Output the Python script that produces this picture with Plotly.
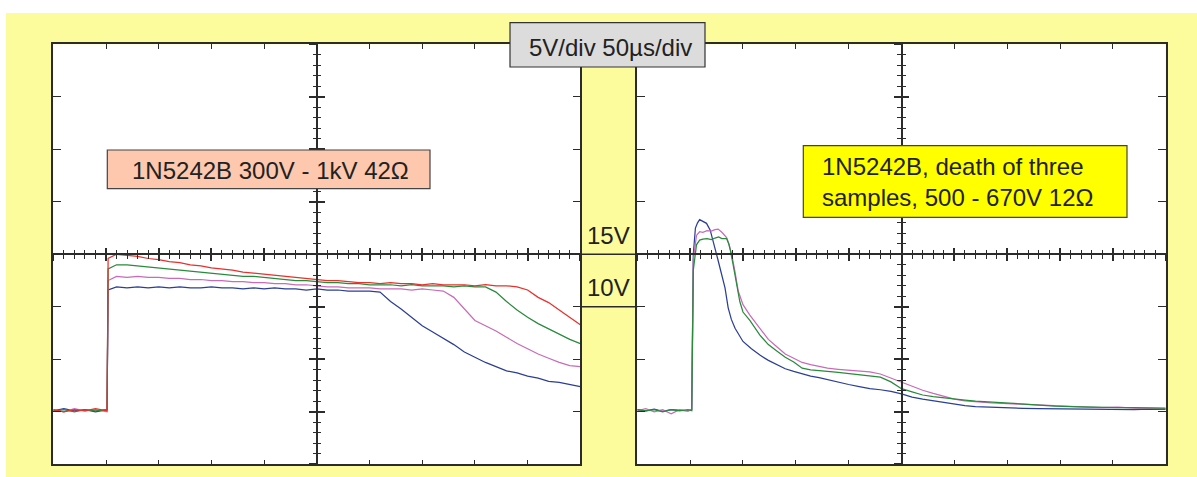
import plotly.graph_objects as go

# ---------------- data ----------------
# Left panel: 1N5242B 300V - 1kV 42 Ohm  (time in us, voltage in V)
T_L = [0, 10, 20, 30, 40, 51, 52, 60, 70, 80,
       90, 100, 110, 120, 130, 140, 150, 160, 170, 180,
       190, 200, 210, 220, 230, 240, 250, 260, 270, 280,
       290, 300, 310, 320, 330, 340, 350, 360, 370, 380,
       390, 400, 410, 420, 430, 440, 450, 460, 470, 480,
       490, 500]
RED_L = [0.2, 0.0, 0.2, 0.1, 0.3, 0.1, 14.6, 15.0, 14.9, 14.8,
         14.6, 14.5, 14.3, 14.2, 14.0, 13.9, 13.7, 13.6, 13.5, 13.3,
         13.2, 13.1, 13.0, 12.9, 12.8, 12.7, 12.6, 12.5, 12.5, 12.4,
         12.3, 12.3, 12.2, 12.3, 12.2, 12.2, 12.1, 12.2, 12.1, 12.1,
         12.1, 12.0, 12.1, 12.0, 12.0, 11.9, 11.6, 10.9, 10.4, 9.7,
         9.0, 8.3]
GREEN_L = [0.1, 0.2, 0.0, 0.2, 0.1, 0.2, 13.6, 14.0, 14.0, 13.9,
           13.8, 13.7, 13.6, 13.5, 13.4, 13.3, 13.2, 13.1, 13.0, 12.9,
           12.9, 12.8, 12.7, 12.6, 12.5, 12.5, 12.4, 12.3, 12.3, 12.2,
           12.2, 12.1, 12.1, 12.1, 12.0, 12.1, 12.0, 12.0, 12.0, 11.9,
           12.0, 11.9, 11.9, 11.4, 10.5, 9.7, 9.0, 8.4, 7.9, 7.4,
           6.9, 6.5]
MAGENTA_L = [0.2, 0.0, 0.3, 0.1, 0.2, 0.0, 12.5, 12.9, 12.8, 12.9,
             12.8, 12.8, 12.7, 12.7, 12.6, 12.6, 12.5, 12.5, 12.4, 12.4,
             12.3, 12.3, 12.2, 12.2, 12.1, 12.1, 12.0, 11.9, 11.9, 11.8,
             11.8, 11.8, 11.7, 11.7, 11.7, 11.6, 11.7, 11.6, 11.5, 10.9,
             9.8, 8.7, 8.2, 7.7, 7.1, 6.5, 6.0, 5.5, 5.1, 4.7,
             4.4, 4.3]
BLUE_L = [0.1, 0.3, 0.1, 0.2, 0.0, 0.2, 11.6, 11.9, 11.8, 11.9,
          11.8, 11.9, 11.8, 11.9, 11.8, 11.8, 11.9, 11.8, 11.8, 11.7,
          11.8, 11.7, 11.8, 11.7, 11.7, 11.6, 11.7, 11.6, 11.6, 11.5,
          11.5, 11.5, 11.4, 10.5, 9.8, 9.0, 8.2, 7.6, 7.0, 6.4,
          5.7, 5.2, 4.7, 4.3, 3.9, 3.7, 3.4, 3.2, 2.9, 2.8,
          2.6, 2.4]

# Right panel: 1N5242B, death of three samples, 500 - 670V 12 Ohm
T_BLUE_R = [0, 8, 16, 24, 32, 40, 48, 51.5, 53, 55, 57, 59, 62, 65.5, 69, 71,
            73.5, 76, 78.5, 81, 83, 86, 89, 92.5, 96, 100, 108, 116, 124, 132,
            140, 148, 156, 164, 172, 180, 190, 200, 210, 220, 230, 240, 250,
            260, 270, 280, 290, 300, 310, 320, 335, 350, 365, 380, 395, 410,
            425, 440, 455, 470, 485, 500]
BLUE_R = [0.2, 0.1, 0.25, 0.05, 0.2, 0.15, 0.1, 0.2, 15.0, 17.5, 18.0, 18.3, 18.15, 17.95, 17.3, 16.6,
          15.6, 14.6, 13.6, 12.6, 11.8, 9.9, 8.8, 7.95, 7.3, 6.7, 6.0, 5.4, 4.9, 4.5,
          4.1, 3.85, 3.6, 3.4, 3.25, 3.05, 2.8, 2.6, 2.4, 2.2, 2.1, 1.95, 1.7,
          1.4, 1.2, 1.03, 0.88, 0.72, 0.58, 0.5, 0.42, 0.38, 0.33, 0.3, 0.28, 0.25,
          0.28, 0.22, 0.25, 0.2, 0.25, 0.22]
T_MAG_R = [0, 8, 16, 24, 32, 40, 48, 51.5, 53, 56, 59, 62, 66, 70, 73.5, 76.5,
           80, 84.5, 87, 89.5, 92.5, 95.5, 100, 106.5, 116, 124, 132, 140, 148, 156,
           164, 172, 180, 190, 200, 210, 220, 230, 240, 250, 260, 270, 280, 290,
           300, 310, 320, 335, 350, 365, 380, 395, 410, 425, 440, 455, 470, 485, 500]
MAGENTA_R = [0.1, 0.3, 0.0, 0.2, -0.2, 0.2, 0.1, 0.2, 14.5, 16.8, 17.15, 17.1, 17.25, 17.2, 17.35, 17.4,
             17.1, 16.6, 15.9, 14.9, 13.3, 11.5, 10.2, 9.2, 7.95, 6.9, 6.2, 5.5, 5.1, 4.7,
             4.5, 4.3, 4.15, 4.05, 3.95, 3.9, 3.8, 3.6, 3.2, 2.85, 2.4, 2.05, 1.75, 1.45,
             1.2, 1.05, 0.95, 0.85, 0.78, 0.7, 0.62, 0.55, 0.5, 0.45, 0.4, 0.45, 0.35, 0.3, 0.3]
T_GREEN_R = [0, 8, 16, 24, 32, 40, 48, 51.5, 53, 56, 59, 62, 66, 70, 73.5, 77,
             80, 84.5, 86.5, 88, 90.5, 94, 97, 100, 106.5, 116, 124, 132, 140, 148,
             156, 164, 172, 180, 190, 200, 210, 220, 230, 240, 250, 260, 270, 280,
             290, 300, 310, 320, 335, 350, 365, 380, 395, 410, 425, 440, 455, 470, 485, 500]
GREEN_R = [0.2, 0.1, 0.2, 0.0, 0.2, 0.1, 0.2, 0.1, 13.5, 15.9, 16.35, 16.45, 16.5, 16.4, 16.55, 16.65,
           16.5, 16.5, 16.0, 15.4, 14.1, 12.1, 10.5, 9.5, 8.7, 7.3, 6.4, 5.8, 5.2, 4.75,
           4.15, 4.0, 3.9, 3.85, 3.75, 3.65, 3.55, 3.45, 3.3, 2.85, 2.2, 1.9, 1.6, 1.45,
           1.32, 1.22, 1.12, 1.02, 0.92, 0.82, 0.72, 0.62, 0.55, 0.5, 0.45, 0.45, 0.4, 0.4, 0.35, 0.35]

LEVEL_LABELS = ["15V", "10V"]
LEVEL_VALUES = [15, 10]
SCALE_TEXT = "5V/div 50\u00b5s/div"
LEFT_TEXT = "1N5242B 300V - 1kV 42\u03a9"
RIGHT_TEXT = "1N5242B, death of three<br>samples, 500 - 670V 12\u03a9"

# ---------------- layout constants ----------------
W, H = 1197, 477
T_RANGE = [0, 500]
V_RANGE = [-5, 35]
CENTER_T = 250
CENTER_V = 15

def px(p):
    return p / W

def py(p):
    return 1 - p / H

XDOM_L = [px(53.3), px(580.3)]
XDOM_R = [px(637.3), px(1165.7)]
YDOM = [py(464.3), py(44.3)]
Y_CENTER_PAPER = YDOM[0] + (CENTER_V - V_RANGE[0]) / (V_RANGE[1] - V_RANGE[0]) * (YDOM[1] - YDOM[0])
XC_L = XDOM_L[0] + (CENTER_T - T_RANGE[0]) / (T_RANGE[1] - T_RANGE[0]) * (XDOM_L[1] - XDOM_L[0])
XC_R = XDOM_R[0] + (CENTER_T - T_RANGE[0]) / (T_RANGE[1] - T_RANGE[0]) * (XDOM_R[1] - XDOM_R[0])

AX = "#2b2b2b"
FONT = "Liberation Sans, Arial, sans-serif"
C_RED = "#e8302c"
C_GREEN = "#2a8a3c"
C_MAG = "#c86bb8"
C_BLUE = "#2b3f96"
YELLOW_BG = "#fcfc9c"

fig = go.Figure()

def add_line(x, y, color, xa, ya):
    fig.add_trace(go.Scatter(x=x, y=y, mode="lines", line=dict(color=color, width=1.25),
                             xaxis=xa, yaxis=ya, hoverinfo="skip", showlegend=False))

assert len(T_L) == len(RED_L) == len(GREEN_L) == len(MAGENTA_L) == len(BLUE_L)
assert len(T_BLUE_R) == len(BLUE_R)
assert len(T_MAG_R) == len(MAGENTA_R)
assert len(T_GREEN_R) == len(GREEN_R)

add_line(T_L, BLUE_L, C_BLUE, "x", "y")
add_line(T_L, MAGENTA_L, C_MAG, "x", "y")
add_line(T_L, GREEN_L, C_GREEN, "x", "y")
add_line(T_L, RED_L, C_RED, "x", "y")

add_line(T_BLUE_R, BLUE_R, C_BLUE, "x2", "y2")
add_line(T_MAG_R, MAGENTA_R, C_MAG, "x2", "y2")
add_line(T_GREEN_R, GREEN_R, C_GREEN, "x2", "y2")

# empty traces so the centre graticule axes exist
for xa, ya in [("x3", "y"), ("x4", "y"), ("x", "y3"), ("x", "y4"),
               ("x5", "y2"), ("x6", "y2"), ("x2", "y5"), ("x2", "y6")]:
    fig.add_trace(go.Scatter(x=[], y=[], xaxis=xa, yaxis=ya, showlegend=False, hoverinfo="skip"))

base = dict(showgrid=False, zeroline=False, showticklabels=False, showline=True,
            linecolor=AX, linewidth=1.5, tickcolor=AX, tickwidth=1.3)

def main_x(dom, anchor):
    return dict(base, domain=dom, range=T_RANGE, anchor=anchor, mirror="ticks",
                ticks="inside", ticklen=5, tick0=0, dtick=50)

def main_y(anchor):
    return dict(base, domain=YDOM, range=V_RANGE, anchor=anchor, mirror="ticks",
                ticks="inside", ticklen=8, tick0=-5, dtick=5)

def centre_x(over, ticks):
    return dict(base, overlaying=over, anchor="free", position=Y_CENTER_PAPER, range=T_RANGE,
                side="bottom", ticks=ticks, ticklen=6, tickwidth=1.5, tick0=0, dtick=50,
                minor=dict(ticks=ticks, ticklen=3.5, dtick=10, tick0=0, tickcolor=AX, tickwidth=1.3))

def centre_y(over, pos, ticks):
    return dict(base, overlaying=over, anchor="free", position=pos, range=V_RANGE,
                side="left", ticks=ticks, ticklen=7, tickwidth=1.5, tick0=-5, dtick=5,
                minor=dict(ticks=ticks, ticklen=3.5, dtick=1, tick0=-5, tickcolor=AX, tickwidth=1.3))

fig.update_layout(
    width=W, height=H, margin=dict(l=0, r=0, t=0, b=0),
    paper_bgcolor=YELLOW_BG, plot_bgcolor="white", showlegend=False,
    xaxis=main_x(XDOM_L, "y"), yaxis=main_y("x"),
    xaxis2=main_x(XDOM_R, "y2"), yaxis2=main_y("x2"),
    xaxis3=centre_x("x", "outside"), xaxis4=centre_x("x", "inside"),
    yaxis3=centre_y("y", XC_L, "outside"), yaxis4=centre_y("y", XC_L, "inside"),
    xaxis5=centre_x("x2", "outside"), xaxis6=centre_x("x2", "inside"),
    yaxis5=centre_y("y2", XC_R, "outside"), yaxis6=centre_y("y2", XC_R, "inside"),
)

shapes = [
    # white page margins around the yellow sheet
    dict(type="rect", xref="paper", yref="paper", x0=0, x1=1, y0=py(13), y1=1,
         fillcolor="white", line=dict(width=0), layer="below"),
    dict(type="rect", xref="paper", yref="paper", x0=0, x1=px(6), y0=0, y1=1,
         fillcolor="white", line=dict(width=0), layer="below"),
    # scale box
    dict(type="rect", xref="paper", yref="paper", x0=px(510), x1=px(705), y0=py(67), y1=py(22.7),
         fillcolor="#dcdcdc", line=dict(color="#333333", width=1.2), layer="above"),
    # left label box
    dict(type="rect", xref="paper", yref="paper", x0=px(107.3), x1=px(430), y0=py(188.7), y1=py(150),
         fillcolor="#fdc8ae", line=dict(color="#444444", width=1.2), layer="above"),
    # right label box
    dict(type="rect", xref="paper", yref="paper", x0=px(803.3), x1=px(1127), y0=py(217.3), y1=py(145.7),
         fillcolor="#ffff00", line=dict(color="#444444", width=1.2), layer="above"),
]
# level lines crossing the gap between the panels
for v in LEVEL_VALUES:
    shapes.append(dict(type="line", xref="paper", yref="y", x0=XDOM_L[1], x1=XDOM_R[0], y0=v, y1=v,
                       line=dict(color=AX, width=1.5)))
fig.update_layout(shapes=shapes)

tf = dict(family=FONT, size=24, color="#222222")
ann = [
    dict(text=SCALE_TEXT, xref="paper", yref="paper", x=px(526.5), y=py(48), xanchor="left",
         yanchor="middle", showarrow=False, font=tf),
    dict(text=LEFT_TEXT, xref="paper", yref="paper", x=px(130), y=py(170), xanchor="left",
         yanchor="middle", showarrow=False, font=tf),
    dict(text=RIGHT_TEXT, xref="paper", yref="paper", x=px(819.5), y=py(181.5), xanchor="left",
         yanchor="middle", align="left", showarrow=False, font=tf),
]
for lab, v in zip(LEVEL_LABELS, LEVEL_VALUES):
    ann.append(dict(text=lab, xref="paper", yref="y", x=(XDOM_L[1] + XDOM_R[0]) / 2, y=v,
                    xanchor="center", yanchor="middle", yshift=19, showarrow=False, font=tf))
fig.update_layout(annotations=ann)

fig.write_html("out.html", config={"displayModeBar": False},
               post_script="document.body.style.margin='0';")
